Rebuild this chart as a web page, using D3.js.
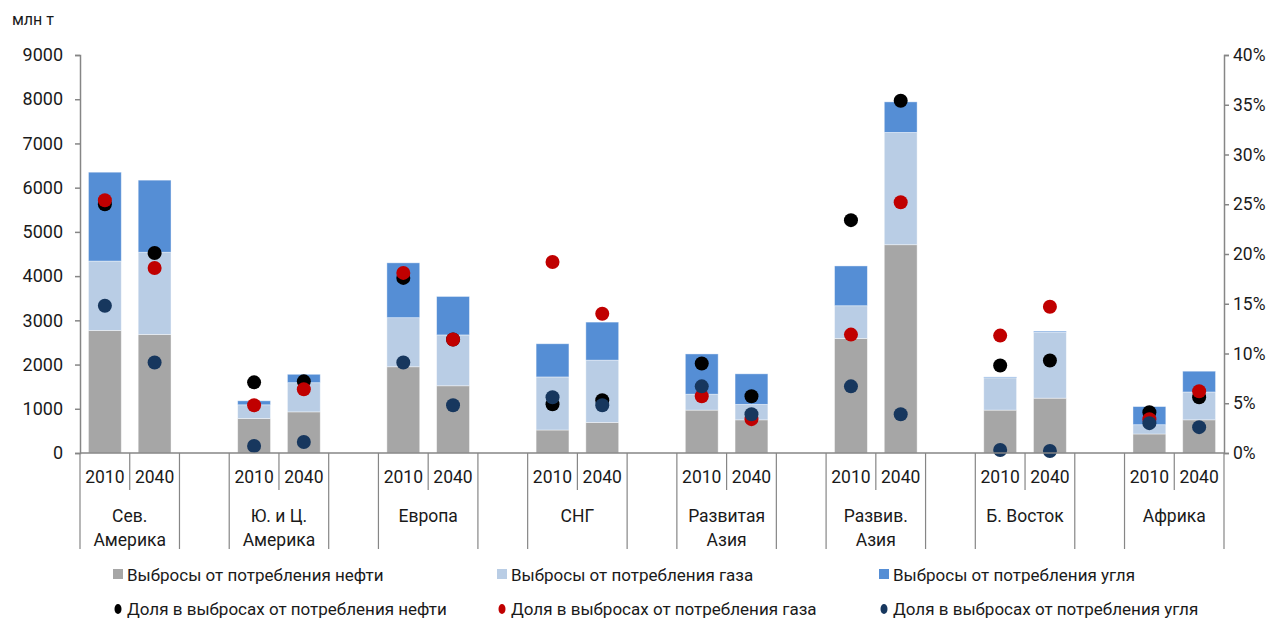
<!DOCTYPE html>
<html><head><meta charset="utf-8">
<script src="https://cdn.jsdelivr.net/npm/d3@7"></script>
<style>
body{margin:0;background:#fff;}
svg text{font-family:Roboto,"Noto Sans",sans-serif;fill:#1a1a1a;}
</style></head>
<body><svg id="chart" width="1279" height="619"></svg>
<script>
const regions = [["Сев.","Америка"],["Ю. и Ц.","Америка"],["Европа"],["СНГ"],["Развитая","Азия"],["Развив.","Азия"],["Б. Восток"],["Африка"]];
const years = ["2010","2040"];
// order: region x year
const oilEm  = [2770,2680, 780,930, 1950,1520, 520,690, 970,750, 2590,4710, 970,1240, 430,750];
const gasEm  = [1570,1860, 310,660, 1110,1150, 1200,1410, 360,350, 740,2540, 730,1490, 210,630];
const coalEm = [2010,1630, 90,190, 1240,870, 750,860, 910,690, 900,690, 20,25, 410,470];
const shareOil  = [25.0,20.1, 7.1,7.2, 17.6,11.4, 4.9,5.3, 9.0,5.7, 23.4,35.4, 8.8,9.3, 4.1,5.6];
const shareGas  = [25.4,18.6, 4.8,6.4, 18.1,11.4, 19.2,14.0, 5.7,3.4, 11.9,25.2, 11.8,14.7, 3.4,6.2];
const shareCoal = [14.8,9.1, 0.7,1.1, 9.1,4.8, 5.6,4.8, 6.7,3.9, 6.7,3.9, 0.3,0.2, 3.0,2.6];
const leftTicks = [0,1000,2000,3000,4000,5000,6000,7000,8000,9000];
const rightTicks = [0,5,10,15,20,25,30,35,40];
const legendBars = ["Выбросы от потребления нефти","Выбросы от потребления газа","Выбросы от потребления угля"];
const legendDots = ["Доля в выбросах от потребления нефти","Доля в выбросах от потребления газа","Доля в выбросах от потребления угля"];

const cOil="#A6A6A6", cGas="#B9CDE5", cCoal="#558ED5", dOil="#000000", dGas="#C00000", dCoal="#17375E";
const axisCol="#868686";
const fs="17.5px";

const svg=d3.select("#chart");
const L=80,R=1224,T=55,B=453;

const slots=[];
regions.forEach((r,i)=>{years.forEach(y=>slots.push(i+"-"+y)); if(i<regions.length-1) slots.push(i+"-gap");});
const x=d3.scaleBand().domain(slots).range([L,R]);
const y=d3.scaleLinear().domain([0,9000]).range([B,T]);
const y2=d3.scaleLinear().domain([0,40]).range([B,T]);

const rows=[];
regions.forEach((r,i)=>years.forEach((yr,j)=>{const k=i*2+j;rows.push({key:i+"-"+yr,oil:oilEm[k],gas:gasEm[k],coal:coalEm[k],so:shareOil[k],sg:shareGas[k],sc:shareCoal[k]});}));
const stack=d3.stack().keys(["oil","gas","coal"])(rows);
const cols={oil:cOil,gas:cGas,coal:cCoal};
const bw=x.bandwidth()*0.66, off=(x.bandwidth()-bw)/2;

svg.append("g").selectAll("g").data(stack).join("g").attr("fill",d=>cols[d.key])
 .selectAll("rect").data(d=>d).join("rect")
 .attr("x",d=>x(d.data.key)+off).attr("width",bw)
 .attr("y",d=>y(d[1])).attr("height",d=>y(d[0])-y(d[1]))
 .attr("stroke","#ffffff").attr("stroke-opacity",0.5).attr("stroke-width",0.8);

[["so",dOil],["sg",dGas],["sc",dCoal]].forEach(([k,c])=>{
 svg.append("g").selectAll("circle").data(rows).join("circle")
  .attr("cx",d=>x(d.key)+x.bandwidth()/2).attr("cy",d=>y2(d[k])).attr("r",7).attr("fill",c);
});

const ga=svg.append("g").attr("transform",`translate(${L},0)`)
 .call(d3.axisLeft(y).tickValues(leftTicks).tickSize(5).tickPadding(12).tickFormat(d3.format("d")));
ga.selectAll("text").style("font-size","18px");
const gb=svg.append("g").attr("transform",`translate(${R},0)`)
 .call(d3.axisRight(y2).tickValues(rightTicks).tickSize(5).tickPadding(4).tickFormat(d=>d+"%"));
gb.selectAll("text").style("font-size",fs);
[ga,gb].forEach(g=>{g.selectAll("path,line").attr("stroke",axisCol).attr("stroke-width",1.5);});

svg.append("line").attr("x1",L).attr("x2",R).attr("y1",B).attr("y2",B).attr("stroke",axisCol).attr("stroke-width",1.5);
const bounds=slots.map(s=>({x:x(s),type:s.endsWith("2040")?"short":"long"}));
bounds.push({x:R,type:"long"});
svg.append("g").selectAll("line").data(bounds).join("line")
 .attr("x1",d=>d.x).attr("x2",d=>d.x).attr("y1",B).attr("y2",d=>d.type==="short"?490:549)
 .attr("stroke",axisCol).attr("stroke-width",1.2);
svg.append("g").selectAll("text").data(rows).join("text")
 .attr("x",d=>x(d.key)+x.bandwidth()/2).attr("y",483).attr("text-anchor","middle")
 .style("font-size",fs).text(d=>d.key.split("-")[1]);
regions.forEach((r,i)=>{
 const cx=x(i+"-2040");
 const t=svg.append("text").attr("text-anchor","middle").style("font-size",fs);
 r.forEach((line,li)=>t.append("tspan").attr("x",cx).attr("y",522+li*24).text(line));
});

svg.append("text").attr("x",12).attr("y",25).style("font-size","16px").text("млн т");

const lx=[113,497,879];
legendBars.forEach((t,i)=>{
 svg.append("rect").attr("x",lx[i]).attr("y",569).attr("width",10).attr("height",10).attr("fill",[cOil,cGas,cCoal][i]);
 svg.append("text").attr("x",lx[i]+14).attr("y",581).style("font-size","17px").text(t);
});
legendDots.forEach((t,i)=>{
 svg.append("ellipse").attr("cx",lx[i]+5).attr("cy",609).attr("rx",3.5).attr("ry",5).attr("fill",[dOil,dGas,dCoal][i]);
 svg.append("text").attr("x",lx[i]+14).attr("y",615).style("font-size","17px").text(t);
});
</script></body></html>
